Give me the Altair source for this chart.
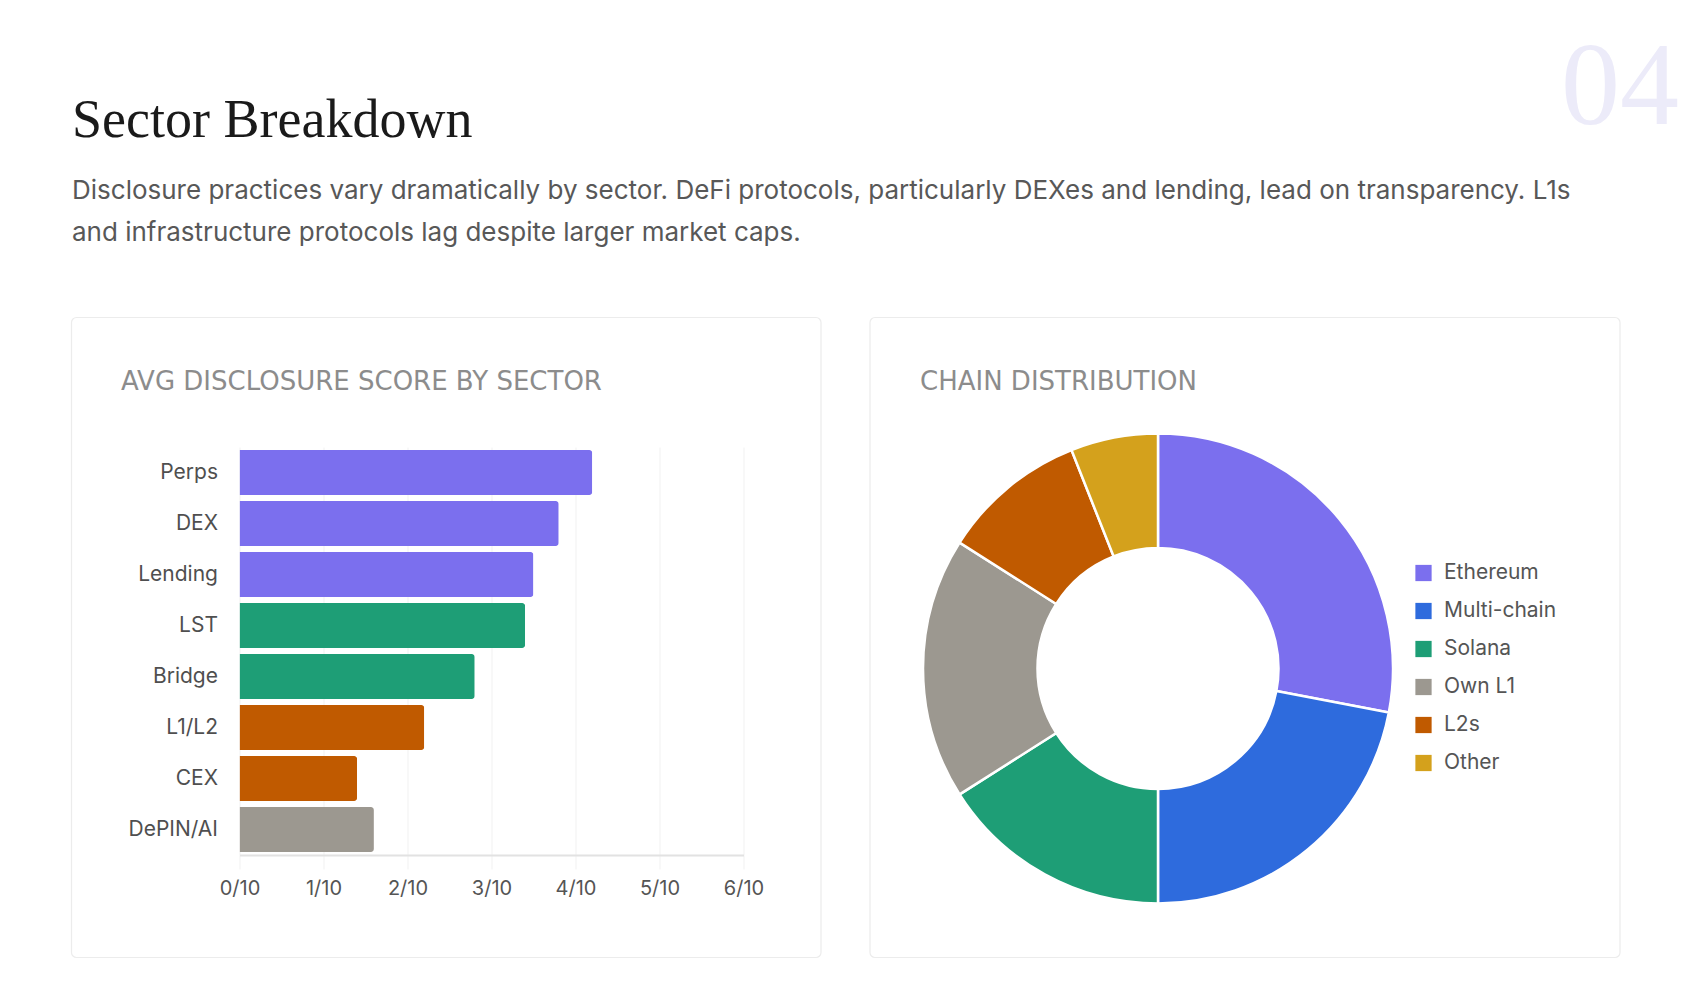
import altair as alt
import pandas as pd

# ---------------- data ----------------
sectors = ["Perps", "DEX", "Lending", "LST", "Bridge", "L1/L2", "CEX", "DePIN/AI"]
scores = [4.2, 3.8, 3.5, 3.4, 2.8, 2.2, 1.4, 1.6]
tick_values = [0, 1, 2, 3, 4, 5, 6]

chains = ["Ethereum", "Multi-chain", "Solana", "Own L1", "L2s", "Other"]
chain_counts = [14, 11, 8, 9, 5, 3]

title_text = "Sector Breakdown"
subtitle_lines = [
    "Disclosure practices vary dramatically by sector. DeFi protocols, particularly DEXes and lending, lead on transparency. L1s",
    "and infrastructure protocols lag despite larger market caps.",
]
bar_title = "AVG DISCLOSURE SCORE BY SECTOR"
pie_title = "CHAIN DISTRIBUTION"
section_number = "04"

# ---------------- styles ----------------
PURPLE, BLUE, GREEN, GRAY, ORANGE, GOLD = "#7B6FEE", "#2E6BDD", "#1E9E76", "#9C9890", "#C05A00", "#D4A11C"
bar_colors = [PURPLE, PURPLE, PURPLE, GREEN, GREEN, ORANGE, ORANGE, GRAY]
chain_colors = [PURPLE, BLUE, GREEN, GRAY, ORANGE, GOLD]

SANS = "Inter"
SERIF = "Liberation Serif"

# plot origin (bar chart plot area) in page pixels
OX, OY = 239.5, 447.0
PW, PH = 504, 408


def px(x):
    return x - OX


def py(y):
    return y - OY


bars_df = pd.DataFrame({"sector": sectors, "score": scores})
chain_df = pd.DataFrame({"chain": chains, "count": chain_counts, "idx": list(range(len(chains)))})
one = pd.DataFrame({"k": [0]})

# ---------------- cards ----------------
def card(x0, x1, y0, y1):
    return alt.Chart(one).mark_rect(
        fillOpacity=0, stroke="#ECECEC", strokeWidth=1.2, cornerRadius=5
    ).encode(
        x=alt.value(px(x0)), x2=alt.value(px(x1)),
        y=alt.value(py(y0)), y2=alt.value(py(y1)),
    )

left_card = card(71.5, 821, 317.5, 957.5)
right_card = card(870, 1620, 317.5, 957.5)

# ---------------- texts ----------------
def txt(text, x, y, size, color, font=SANS, align="left", weight="normal"):
    return alt.Chart(one).mark_text(
        align=align, baseline="alphabetic", font=font, fontSize=size,
        color=color, fontWeight=weight,
    ).encode(x=alt.value(px(x)), y=alt.value(py(y)), text=alt.value(text))

title = txt(title_text, 72, 137, 54, "#1A1A1A", font=SERIF)
sub1 = txt(subtitle_lines[0], 72, 199, 26, "#585858")
sub2 = txt(subtitle_lines[1], 72, 241, 26, "#585858")
num = txt(section_number, 1679, 124, 118, "#ECEBF9", font=SERIF, align="right")
bt = txt(bar_title, 121, 390, 26, "#8C8C8C", font="DejaVu Sans")
pt = txt(pie_title, 920, 390, 26, "#8C8C8C", font="DejaVu Sans")

# ---------------- bar chart ----------------
bars = alt.Chart(bars_df).mark_bar(cornerRadiusEnd=3).encode(
    y=alt.Y(
        "sector:N", sort=sectors,
        scale=alt.Scale(paddingInner=0.12, paddingOuter=0.06),
        axis=alt.Axis(
            title=None, ticks=False, domain=False, grid=False,
            labelFontSize=21, labelColor="#4F4F4F", labelPadding=22, labelFont=SANS,
        ),
    ),
    x=alt.X(
        "score:Q",
        scale=alt.Scale(domain=[0, 6], nice=False),
        axis=alt.Axis(
            title=None, values=tick_values, labelExpr="datum.value + '/10'",
            grid=True, gridColor="#F1F1F1", gridWidth=1,
            ticks=True, tickColor="#F1F1F1", tickSize=14,
            domain=True, domainColor="#E2E2E2", domainWidth=2,
            labelFontSize=20, labelColor="#555555", labelPadding=9,
            labelFlush=False, labelFont=SANS,
        ),
    ),
    color=alt.Color("sector:N", scale=alt.Scale(domain=sectors, range=bar_colors), legend=None),
)

# ---------------- donut ----------------
donut = alt.Chart(chain_df).mark_arc(
    innerRadius=120.5, outerRadius=235, stroke="white", strokeWidth=2.5
).encode(
    theta=alt.Theta("count:Q", stack=True),
    order=alt.Order("idx:Q"),
    color=alt.Color(
        "chain:N",
        scale=alt.Scale(domain=chains, range=chain_colors),
        legend=alt.Legend(
            title=None, orient="none", legendX=px(1413), legendY=py(562.5),
            symbolType="square", symbolSize=264, symbolStrokeWidth=0,
            labelFontSize=21, labelColor="#555555", labelFont=SANS,
            labelOffset=10, rowPadding=16, padding=0, offset=0,
        ),
    ),
    x=alt.value(px(1158)),
    y=alt.value(py(668.5)),
)

chart = alt.layer(
    left_card, right_card, title, sub1, sub2, num, bt, pt, bars, donut
).resolve_scale(color="independent").properties(
    width=PW, height=PH,
    padding={"left": OX - 8, "top": OY - 8, "right": 1692 - (OX - 8) - PW, "bottom": 968 - (OY - 8) - PH},
    autosize=alt.AutoSizeParams(type="none"),
    background="white",
).configure_view(stroke=None)

chart.save("out.html", embed_options={"renderer": "svg", "actions": False})
